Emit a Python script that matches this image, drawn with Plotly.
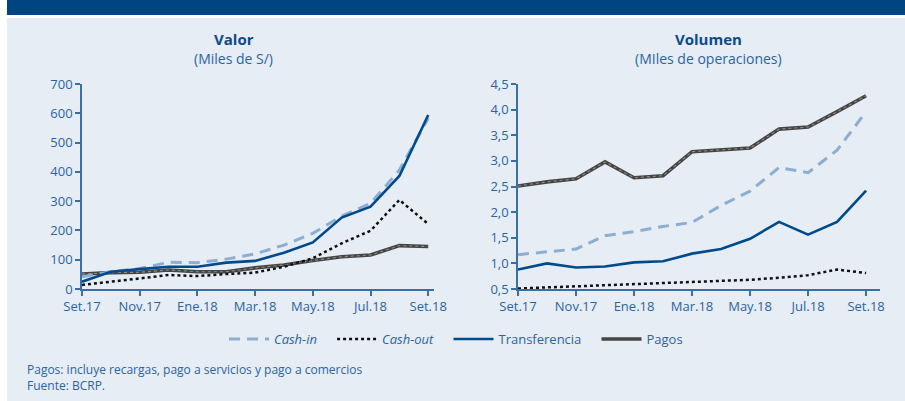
import plotly.graph_objects as go

months = ["Set.17", "Oct.17", "Nov.17", "Dic.17", "Ene.18", "Feb.18", "Mar.18",
          "Abr.18", "May.18", "Jun.18", "Jul.18", "Ago.18", "Set.18"]
tick_months = months[::2]

# Valor (Miles de S/)
valor_cash_in = [42, 59, 70, 91, 90, 102, 120, 150, 190, 249, 292, 406, 583]
valor_cash_out = [14, 24, 36, 48, 44, 51, 56, 76, 105, 156, 199, 304, 222]
valor_transf = [25, 59, 68, 76, 76, 90, 96, 124, 159, 244, 281, 386, 594]
valor_pagos = [51, 56, 57, 65, 59, 59, 72, 82, 97, 110, 116, 148, 145]

# Volumen (Miles de operaciones)
vol_cash_in = [1.17, 1.22, 1.28, 1.54, 1.62, 1.72, 1.80, 2.13, 2.41, 2.87, 2.77, 3.21, 3.96]
vol_cash_out = [0.51, 0.53, 0.55, 0.57, 0.60, 0.62, 0.64, 0.66, 0.68, 0.72, 0.77, 0.88, 0.81]
vol_transf = [0.88, 1.00, 0.92, 0.94, 1.02, 1.04, 1.19, 1.28, 1.48, 1.81, 1.56, 1.81, 2.42]
vol_pagos = [2.51, 2.59, 2.65, 2.98, 2.67, 2.71, 3.18, 3.22, 3.25, 3.62, 3.66, 3.96, 4.27]

W, H = 905, 401
T, B = 84, 112
PH = H - T - B

def py(px):
    return 1 - (px - T) / PH

def pxx(px):
    return px / W

BLUE_TXT = "#2b64a0"
AXIS = "#3a6fa6"
FONT = "Open Sans"
SP = "&nbsp;&nbsp;&nbsp;"

fig = go.Figure()

def add_series(xa, ya, cin, cout, tr, pg, show):
    fig.add_trace(go.Scatter(x=months, y=pg, mode="lines", name="Pagos",
                             line=dict(color="#454545", width=3.6), xaxis=xa, yaxis=ya,
                             showlegend=show, legendrank=4, legendgroup="p"))
    fig.add_trace(go.Scatter(x=months, y=pg, mode="lines", name="Pagos",
                             line=dict(color="#8c8c8c", width=1.1, dash="dot"), xaxis=xa, yaxis=ya,
                             showlegend=False, legendgroup="p", hoverinfo="skip"))
    fig.add_trace(go.Scatter(x=months, y=cin, mode="lines", name="<i>Cash-in</i>" + SP,
                             line=dict(color="#8eadd1", width=3, dash="11px,7px"), xaxis=xa, yaxis=ya,
                             showlegend=show, legendrank=1))
    fig.add_trace(go.Scatter(x=months, y=cout, mode="lines", name="<i>Cash-out</i>" + SP,
                             line=dict(color="#111111", width=2.5, dash="dot"), xaxis=xa, yaxis=ya,
                             showlegend=show, legendrank=2))
    fig.add_trace(go.Scatter(x=months, y=tr, mode="lines", name="Transferencia" + SP,
                             line=dict(color="#004a8c", width=2.6), xaxis=xa, yaxis=ya,
                             showlegend=show, legendrank=3))

add_series("x", "y", valor_cash_in, valor_cash_out, valor_transf, valor_pagos, True)
add_series("x2", "y2", vol_cash_in, vol_cash_out, vol_transf, vol_pagos, False)

xcommon = dict(type="category", tickmode="array", tickvals=tick_months, ticktext=tick_months,
               showgrid=False, zeroline=False, showline=True, linecolor=AXIS, linewidth=1.5,
               ticks="outside", ticklen=5, tickcolor=AXIS, tickwidth=1.5, automargin=False,
               tickfont=dict(family=FONT, size=13, color=BLUE_TXT))
ycommon = dict(showgrid=False, zeroline=False, showline=True, linecolor=AXIS, linewidth=1.5,
               ticks="outside", ticklen=5, tickcolor=AXIS, tickwidth=1.5, automargin=False,
               tickfont=dict(family=FONT, size=13, color=BLUE_TXT))

fig.update_layout(
    template="none",
    width=W, height=H,
    margin=dict(l=0, r=0, t=T, b=B, pad=0, autoexpand=False),
    paper_bgcolor="#e6edf4", plot_bgcolor="rgba(0,0,0,0)",
    separators=",.",
    font=dict(family=FONT, color=BLUE_TXT),
    xaxis=dict(domain=[pxx(82), pxx(434)], range=[0, 12.2], anchor="y", **xcommon),
    yaxis=dict(domain=[0, 1], range=[0, 700], dtick=100, anchor="x", **ycommon),
    xaxis2=dict(domain=[pxx(518), pxx(880)], range=[0, 12.48], anchor="y2", **xcommon),
    yaxis2=dict(domain=[0, 1], range=[0.5, 4.5], dtick=0.5, tickformat=".1f", anchor="x2", **ycommon),
    legend=dict(orientation="h", x=pxx(456), xanchor="center", y=py(339), yanchor="middle",
                font=dict(family=FONT, size=13, color=BLUE_TXT), bgcolor="rgba(0,0,0,0)",
                traceorder="normal", itemwidth=40),
    showlegend=True,
)

shapes = [
    dict(type="rect", xref="paper", yref="paper", x0=0, x1=pxx(7), y0=py(H), y1=py(0),
         fillcolor="white", line_width=0, layer="below"),
    dict(type="rect", xref="paper", yref="paper", x0=pxx(7), x1=1, y0=py(15), y1=py(0),
         fillcolor="#004581", line_width=0, layer="below"),
    dict(type="rect", xref="paper", yref="paper", x0=pxx(7), x1=1, y0=py(18), y1=py(15),
         fillcolor="white", line_width=0, layer="below"),
]
fig.update_layout(shapes=shapes)

ann = [
    dict(text="<b>Valor</b>", x=pxx(234), y=py(39), font=dict(size=15, color="#0d4a86")),
    dict(text="(Miles de S/)", x=pxx(234), y=py(59), font=dict(size=14, color=BLUE_TXT)),
    dict(text="<b>Volumen</b>", x=pxx(708), y=py(39), font=dict(size=15, color="#0d4a86")),
    dict(text="(MIles de operaciones)", x=pxx(708), y=py(59), font=dict(size=14, color=BLUE_TXT)),
]
for a in ann:
    fig.add_annotation(xref="paper", yref="paper", showarrow=False, xanchor="center",
                       yanchor="middle", font_family=FONT, **a)

fig.add_annotation(xref="paper", yref="paper", showarrow=False, xanchor="left", yanchor="middle",
                   align="left", x=pxx(25), y=py(377.5),
                   text="Pagos: incluye recargas, pago a servicios y pago a comercios<br>Fuente: BCRP.",
                   font=dict(family=FONT, size=12, color=BLUE_TXT))

fig.write_html("out.html", config={"responsive": False, "displayModeBar": False},
               post_script="document.body.style.margin='0';document.body.style.overflow='hidden';")
